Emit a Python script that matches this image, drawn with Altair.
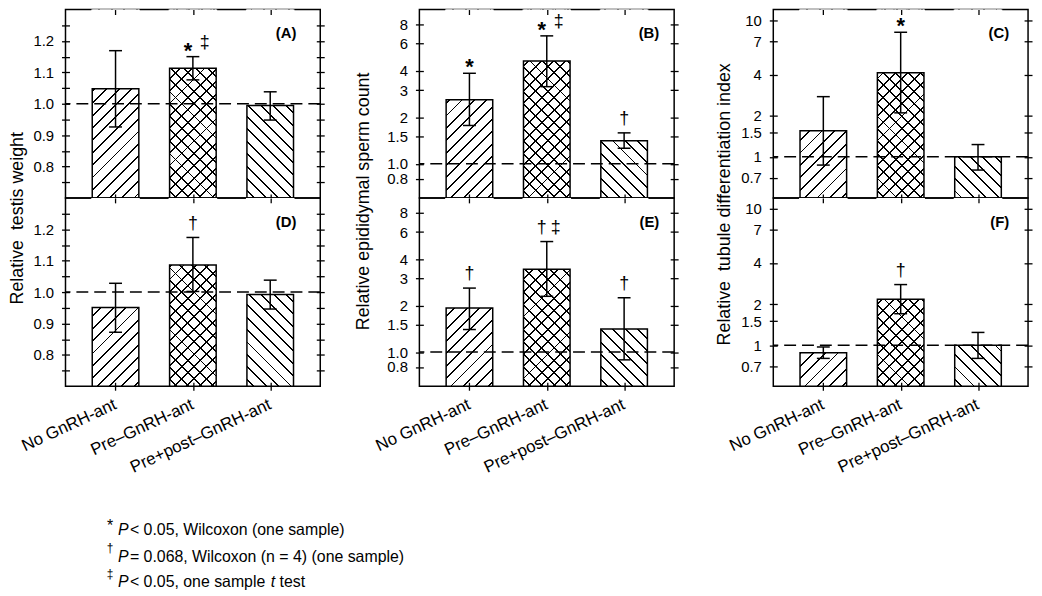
import math
import altair as alt
import pandas as pd

# ---------------- data ----------------
groups = ["No GnRH-ant", "Pre\u2013GnRH-ant", "Pre+post\u2013GnRH-ant"]
patterns = ["fwd", "cross", "back"]

A_mean = [1.048, 1.113, 0.994]
A_lo = [0.926, 1.076, 0.948]
A_hi = [1.169, 1.150, 1.038]
A_sig = ["", "* \u2021", ""]

D_mean = [0.951, 1.086, 0.992]
D_lo = [0.872, 1.002, 0.946]
D_hi = [1.028, 1.174, 1.038]
D_sig = ["", "\u2020", ""]

B_mean = [2.60, 4.64, 1.41]
B_lo = [1.77, 3.16, 1.26]
B_hi = [3.86, 6.75, 1.585]
B_sig = ["*", "* \u2021", "\u2020"]

E_mean = [1.93, 3.45, 1.41]
E_lo = [1.40, 2.30, 0.89]
E_hi = [2.60, 5.21, 2.25]
E_sig = ["\u2020", "\u2020 \u2021", "\u2020"]

C_mean = [1.55, 4.13, 1.00]
C_lo = [0.87, 2.10, 0.80]
C_hi = [2.76, 8.18, 1.23]
C_sig = ["", "*", ""]

F_mean = [0.88, 2.17, 1.00]
F_lo = [0.80, 1.70, 0.80]
F_hi = [0.97, 2.78, 1.24]
F_sig = ["", "\u2020", ""]

ref_value = [1.0]

col1_domain = [0.7, 1.3]
col1_ticks = [0.75, 0.8, 0.85, 0.9, 0.95, 1.0, 1.05, 1.1, 1.15, 1.2, 1.25]
col2_domain = [0.6, 10]
col2_ticks = [0.8, 1, 1.5, 2, 3, 4, 6, 8]
col3_domain = [0.5, 12]
col3_ticks = [0.7, 1, 1.5, 2, 4, 7, 10]

titles = ["Relative\u00a0 testis weight", "Relative epididymal sperm count",
          "Relative\u00a0 tubule differentiation index"]
panel_labels = [["(A)", "(D)"], ["(B)", "(E)"], ["(C)", "(F)"]]

note_symbols = ["*", "\u2020", "\u2021"]
note_texts = ["< 0.05, Wilcoxon (one sample)",
              "= 0.068, Wilcoxon (n = 4) (one sample)",
              "< 0.05, one sample"]

# ---------------- layout constants ----------------
W, H = 257, 190
BW = 47
XPAD = 0.647
HATCH_GAP = 12.5
HATCH_LW = 1.35
FONT = "Liberation Sans"


def stripe_fill(kind, bg):
    L = (BW + H) / math.sqrt(2)
    k = (BW + H) / (BW ** 2 + H ** 2)
    if kind == "fwd":
        x1, y1, x2, y2 = 0, 0, k * BW, k * H
    else:
        x1, y1, x2, y2 = 0, 1, k * BW, 1 - k * H
    period = HATCH_GAP / math.sqrt(2) / L
    w = HATCH_LW / L
    stops = [{"offset": 0, "color": bg}]
    t = period / 2
    while t + w < 1:
        a, b = round(t, 5), round(t + w, 5)
        stops += [{"offset": a, "color": bg}, {"offset": a, "color": "black"},
                  {"offset": b, "color": "black"}, {"offset": b, "color": bg}]
        t += period
    stops.append({"offset": 1, "color": bg})
    return {"gradient": "linear", "x1": x1, "y1": y1, "x2": x2, "y2": y2, "stops": stops}


def txt(text, x, y, size, style="normal", weight="normal", align="left", baseline="alphabetic"):
    return alt.Chart(pd.DataFrame({"t": [text]})).mark_text(
        align=align, baseline=baseline, fontSize=size, fontStyle=style,
        fontWeight=weight, color="black", font=FONT
    ).encode(x=alt.value(x), y=alt.value(y), text="t:N")


def panel(mean, lo, hi, sig, col, row):
    df = pd.DataFrame({"group": groups, "mean": mean, "lo": lo, "hi": hi, "pattern": patterns})
    if col == 0:
        dom, ticks, stype = col1_domain, col1_ticks, "linear"
        lexpr = "abs(datum.value*10 - round(datum.value*10)) < 0.001 ? format(datum.value, '.1f') : ''"
    elif col == 1:
        dom, ticks, stype = col2_domain, col2_ticks, "log"
        lexpr = "datum.value == 1 ? '1.0' : format(datum.value, '~g')"
    else:
        dom, ticks, stype = col3_domain, col3_ticks, "log"
        lexpr = "format(datum.value, '~g')"
    dmin, dmax = dom
    ys = alt.Scale(type=stype, domain=dom, nice=False, zero=False)
    xs = alt.Scale(type="point", padding=XPAD)

    def X(axis=None):
        return alt.X("group:N", sort=groups, scale=xs, axis=axis)

    base = alt.Chart(df)
    layers = []

    # hatch fills (full-height), then white mask above each bar
    h1 = alt.Chart(df[df.pattern.isin(["fwd", "cross"])]).mark_bar(
        fill=stripe_fill("fwd", "white"), size=BW, strokeWidth=0
    ).encode(x=X(), y=alt.YDatum(dmax, scale=ys, axis=None), y2=alt.Y2Datum(dmin))
    h2 = alt.Chart(df[df.pattern == "back"]).mark_bar(
        fill=stripe_fill("back", "white"), size=BW, strokeWidth=0
    ).encode(x=X(), y=alt.YDatum(dmax, scale=ys, axis=None), y2=alt.Y2Datum(dmin))
    h3 = alt.Chart(df[df.pattern == "cross"]).mark_bar(
        fill=stripe_fill("back", "rgba(0,0,0,0)"), size=BW, strokeWidth=0
    ).encode(x=X(), y=alt.YDatum(dmax, scale=ys, axis=None), y2=alt.Y2Datum(dmin))
    mask = base.mark_bar(fill="white", size=BW + 2, strokeWidth=0).encode(
        x=X(), y=alt.Y("mean:Q", scale=ys, axis=None), y2=alt.Y2Datum(dmax))
    outline = base.mark_bar(fillOpacity=0, stroke="black", strokeWidth=1.5, size=BW).encode(
        x=X(), y=alt.Y("mean:Q", scale=ys, axis=None), y2=alt.Y2Datum(dmin))
    layers += [h1, h2, h3, mask, outline]

    dash = alt.Chart(pd.DataFrame({"ref": ref_value})).mark_rule(
        strokeDash=[12, 6], strokeWidth=1.5, color="black"
    ).encode(y=alt.Y("ref:Q", scale=ys, axis=None))
    err = base.mark_rule(strokeWidth=1.5, color="black").encode(
        x=X(), y=alt.Y("lo:Q", scale=ys, axis=None), y2="hi:Q")
    cap_hi = base.mark_tick(size=13, thickness=1.5, orient="horizontal", color="black", opacity=1).encode(
        x=X(), y=alt.Y("hi:Q", scale=ys, axis=None))
    cap_lo = base.mark_tick(size=13, thickness=1.5, orient="horizontal", color="black", opacity=1).encode(
        x=X(), y=alt.Y("lo:Q", scale=ys, axis=None))
    layers += [dash, err, cap_hi, cap_lo]

    # significance symbols
    rows = []
    for g, h, s in zip(groups, hi, sig):
        parts = s.split()
        if len(parts) == 1:
            rows.append((g, h, parts[0], 0))
        elif len(parts) == 2:
            rows.append((g, h, parts[0], -5))
            rows.append((g, h, parts[1], 12 if parts[0] == "*" else 9))
    for sym in ["*", "\u2020", "\u2021"]:
        for dx in sorted(set(r[3] for r in rows)):
            sel = [r for r in rows if r[2] == sym and r[3] == dx]
            if not sel:
                continue
            sdf = pd.DataFrame(sel, columns=["group", "hi", "sym", "dx"])
            if sym == "*":
                mk = dict(fontSize=22, fontWeight="bold", dy=1)
            else:
                mk = dict(fontSize=18, dy=-9)
            layers.append(alt.Chart(sdf).mark_text(
                align="center", baseline="alphabetic", dx=dx, color="black", font=FONT, **mk
            ).encode(x=X(), y=alt.Y("hi:Q", scale=ys, axis=None), text="sym:N"))

    # panel label
    off = [24, 15, 19][col]
    layers.append(txt(panel_labels[col][row], W - off, 24, 15, weight="bold", align="right",
                      baseline="middle"))

    # axes
    common = dict(domain=False, grid=False, tickColor="black", tickWidth=1.3, zindex=1,
                  labelColor="black", labelFont=FONT)
    left_kw = dict(orient="left", values=ticks, offset=-4, tickSize=8, labelExpr=lexpr,
                   labelFontSize=15, labelPadding=8, labelOverlap=False, **common)
    if row == 0:
        tx = [-52, -60, -53][col]
        ty = [210, 193, 196][col]
        left_axis = alt.Axis(title=titles[col], titleX=tx, titleY=ty, titleAngle=270,
                             titleAlign="center", titleBaseline="middle", titleFontSize=18,
                             titleFontWeight="normal", titleFont=FONT, titleColor="black",
                             **left_kw)
    else:
        left_axis = alt.Axis(title=None, **left_kw)
    right_axis = alt.Axis(orient="right", values=ticks, offset=-4, tickSize=8, labels=False,
                          title=None, **common)
    if row == 1:
        bottom_axis = alt.Axis(orient="bottom", offset=-4, tickSize=8, labels=True, title=None,
                               labelAngle=335, labelAlign="right", labelBaseline="top",
                               labelPadding=6, labelOffset=-4, labelFontSize=17,
                               labelOverlap=False, labelLimit=300, **common)
    else:
        bottom_axis = alt.Axis(orient="bottom", offset=-4, tickSize=8, labels=False, title=None,
                               **common)
    top_axis = alt.Axis(orient="top", offset=-5, tickSize=5, labels=False, title=None, **common)

    axL = base.mark_point(opacity=0).encode(x=X(bottom_axis), y=alt.Y("mean:Q", scale=ys, axis=left_axis))
    axR = base.mark_point(opacity=0).encode(x=X(top_axis), y=alt.Y("mean:Q", scale=ys, axis=right_axis))
    layers += [axL, axR]

    # footnotes (attached below the bottom-left panel)
    if col == 0 and row == 1:
        base_y = [340, 367, 393]
        for i in range(3):
            by = base_y[i]
            if note_symbols[i] == "*":
                layers.append(txt("*", 45, by - 4, 16, align="center"))
            else:
                layers.append(txt(note_symbols[i], 45, by - 10, 12, align="center"))
            layers.append(txt("P", 53, by, 16, style="italic"))
            layers.append(txt(note_texts[i], 65, by, 16))
        layers.append(txt("t", 207, base_y[2], 16, style="italic"))
        layers.append(txt("test", 216, base_y[2], 16))

    return alt.layer(*layers).resolve_axis(x="independent", y="independent").properties(width=W, height=H)


data = [[(A_mean, A_lo, A_hi, A_sig), (D_mean, D_lo, D_hi, D_sig)],
        [(B_mean, B_lo, B_hi, B_sig), (E_mean, E_lo, E_hi, E_sig)],
        [(C_mean, C_lo, C_hi, C_sig), (F_mean, F_lo, F_hi, F_sig)]]
panels = []
for r in range(2):
    for c in range(3):
        panels.append(panel(*data[c][r], c, r))

chart = alt.concat(*panels, columns=3, spacing={"row": 0, "column": 100}, bounds="flush").properties(
    padding={"left": 0, "top": -3, "right": 0, "bottom": 0}
).configure(font=FONT).configure_view(stroke="black", strokeWidth=1.5)

chart.save("out.html", embed_options={"renderer": "svg", "actions": False})
